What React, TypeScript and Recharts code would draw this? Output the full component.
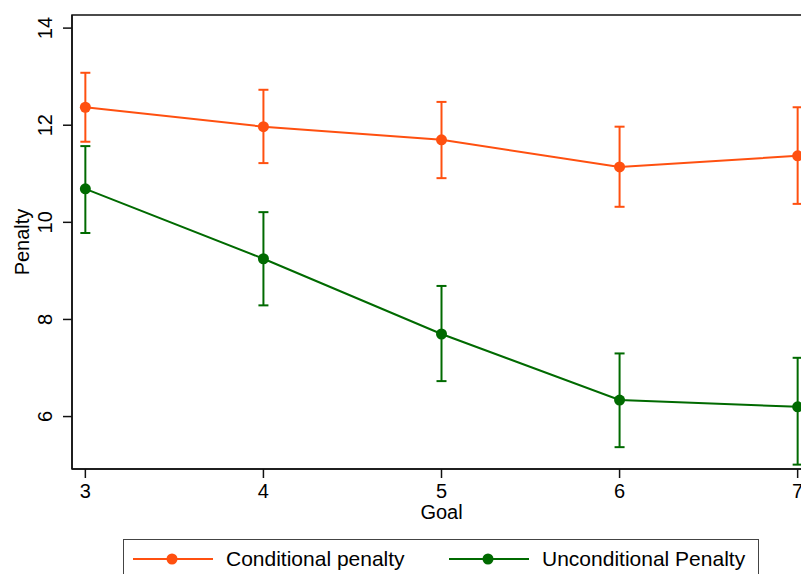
import React from "react";
import { LineChart, Line, XAxis, YAxis, ErrorBar, ReferenceArea } from "recharts";

// values
const goals = [3, 4, 5, 6, 7];
const condMean = [12.37, 11.97, 11.7, 11.14, 11.37];
const condLow = [11.66, 11.22, 10.91, 10.32, 10.38];
const condHigh = [13.08, 12.73, 12.48, 11.97, 12.37];
const uncondMean = [10.69, 9.25, 7.7, 6.34, 6.2];
const uncondLow = [9.78, 8.29, 6.73, 5.37, 5.01];
const uncondHigh = [11.57, 10.21, 8.69, 7.3, 7.21];
const yTicks = [6, 8, 10, 12, 14];

const ORANGE = "#ff5010";
const GREEN = "#006a00";
const FONT = "'Liberation Sans', Arial, Helvetica, sans-serif";

const X_DOMAIN = [2.925, 7.075];
const Y_DOMAIN = [4.92, 14.27];

const data = goals.map((g, i) => ({
    goal: g,
    cond: condMean[i],
    condErr: [condMean[i] - condLow[i], condHigh[i] - condMean[i]],
    uncond: uncondMean[i],
    uncondErr: [uncondMean[i] - uncondLow[i], uncondHigh[i] - uncondMean[i]],
}));

// rotated y tick labels, like Stata
const RotatedTick = (props: any) => {
    const { x, y, payload } = props;
    const tx = x - 9;
    return (
        <text x={tx} y={y} transform={`rotate(-90, ${tx}, ${y})`} textAnchor="middle" fontSize={20} fontFamily={FONT} fill="#000">
            {payload.value}
        </text>
    );
};

const PenaltyLabel = () => (
    <text x={29} y={242} transform="rotate(-90, 29, 242)" textAnchor="middle" fontSize={20} fontFamily={FONT} fill="#000">
        Penalty
    </text>
);

const LegendItem = ({ color, label, left }: { color: string; label: string; left: number }) => (
    <div style={{ position: "absolute", left, top: 0, height: 38, display: "flex", alignItems: "center" }}>
        <svg width={80} height={14} style={{ display: "block" }}>
            <line x1={0} y1={7} x2={80} y2={7} stroke={color} strokeWidth={2} />
            <circle cx={39} cy={7} r={5.5} fill={color} />
        </svg>
        <span style={{ marginLeft: 13, fontSize: 21, fontFamily: FONT, color: "#000", whiteSpace: "nowrap" }}>{label}</span>
    </div>
);

export default function App() {
    return (
        <div style={{ position: "fixed", left: 0, top: 0, width: 801, height: 574, overflow: "hidden", background: "#fff" }}>
            <LineChart width={840} height={574} data={data} margin={{ top: 15, right: 29, left: 0, bottom: 45 }}>
                <ReferenceArea x1={X_DOMAIN[0]} x2={X_DOMAIN[1]} y1={Y_DOMAIN[0]} y2={Y_DOMAIN[1]} fill="none" stroke="#111" strokeWidth={1.5} ifOverflow="visible" />
                <XAxis
                    dataKey="goal"
                    type="number"
                    domain={X_DOMAIN}
                    ticks={goals}
                    allowDataOverflow
                    height={60}
                    tickSize={9}
                    tickMargin={6}
                    axisLine={{ stroke: "#111", strokeWidth: 1.5 }}
                    tickLine={{ stroke: "#111", strokeWidth: 1.5 }}
                    tick={{ fontSize: 20, fontFamily: FONT, fill: "#000" }}
                    label={{ value: "Goal", position: "insideTop", offset: 36, fontSize: 20, fontFamily: FONT, fill: "#000" }}
                />
                <YAxis
                    type="number"
                    domain={Y_DOMAIN}
                    ticks={yTicks}
                    allowDataOverflow
                    width={72}
                    tickSize={9}
                    tickMargin={2}
                    axisLine={{ stroke: "#111", strokeWidth: 1.5 }}
                    tickLine={{ stroke: "#111", strokeWidth: 1.5 }}
                    tick={<RotatedTick />}
                    label={<PenaltyLabel />}
                />
                <Line dataKey="cond" stroke={ORANGE} strokeWidth={2} dot={{ r: 5.5, fill: ORANGE, stroke: ORANGE, strokeWidth: 0 }} activeDot={false} isAnimationActive={false}>
                    <ErrorBar dataKey="condErr" direction="y" width={5} stroke={ORANGE} strokeWidth={2} isAnimationActive={false} />
                </Line>
                <Line dataKey="uncond" stroke={GREEN} strokeWidth={2} dot={{ r: 5.5, fill: GREEN, stroke: GREEN, strokeWidth: 0 }} activeDot={false} isAnimationActive={false}>
                    <ErrorBar dataKey="uncondErr" direction="y" width={5} stroke={GREEN} strokeWidth={2} isAnimationActive={false} />
                </Line>
            </LineChart>
            <div style={{ position: "absolute", left: 123, top: 539, width: 636, height: 50, boxSizing: "border-box", border: "1.5px solid #444", background: "#fff" }}>
                <LegendItem color={ORANGE} label="Conditional penalty" left={9} />
                <LegendItem color={GREEN} label="Unconditional Penalty" left={325} />
            </div>
        </div>
    );
}
